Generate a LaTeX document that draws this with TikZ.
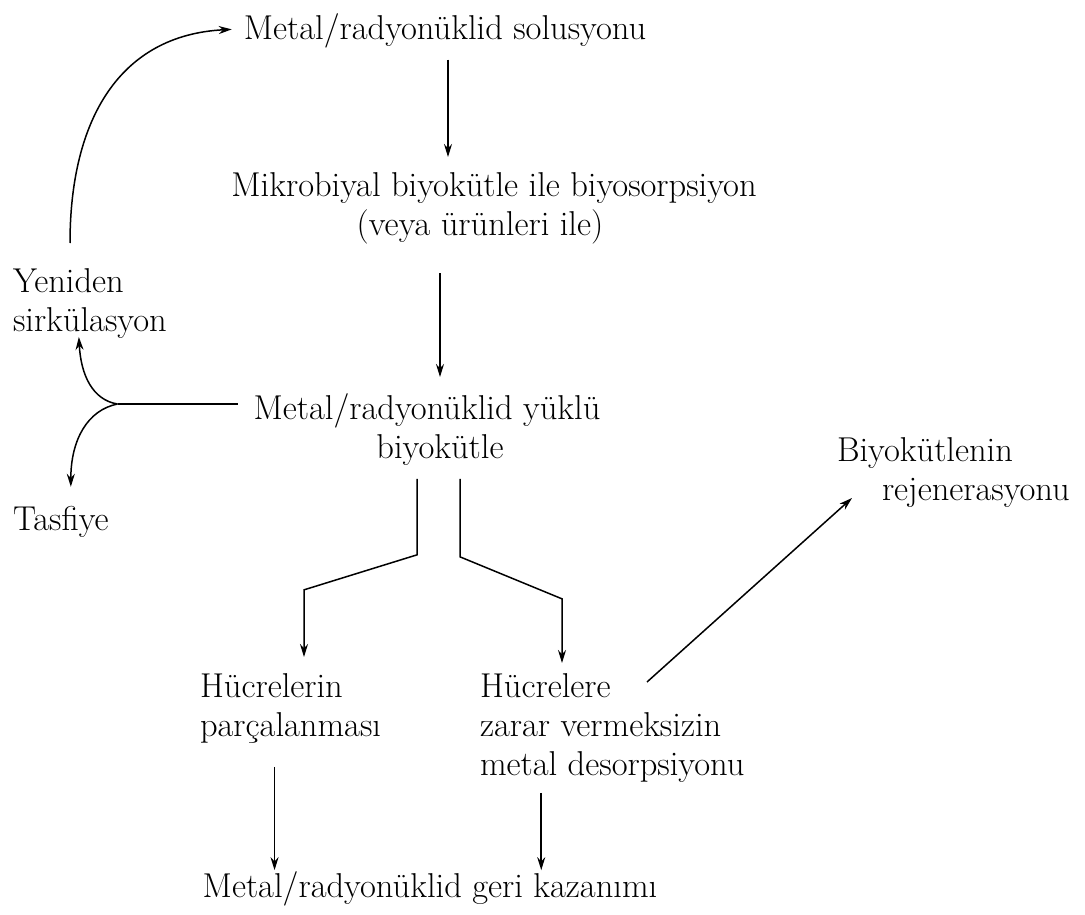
\documentclass[tikz,border=0pt]{standalone}
\usepackage{fontspec}
\usetikzlibrary{arrows.meta,calc}
\begin{document}
\begin{tikzpicture}[x=1pt,y=-1pt,
  lbl/.style={inner sep=0pt, outer sep=0pt, font=\fontsize{34.5}{39}\selectfont},
  arr/.style={line width=1.5pt, -{Stealth[length=13pt,width=8pt]}},
  ln/.style={line width=1.5pt}]
\useasboundingbox (0,0) rectangle (1085,915);
\fill[white] (0,0) rectangle (1085,915);

% nodes
\node[lbl, anchor=base] (sol) at (445,40) {Metal/radyonüklid solusyonu};
\node[lbl, anchor=north, align=center] (mik) at (494,173) {Mikrobiyal biyokütle ile biyosorpsiyon\\(veya ürünleri ile)\hspace*{28pt}};
\node[lbl, anchor=north, align=center] (load) at (427,394) {Metal/radyonüklid yüklü\\\hspace*{26pt}biyokütle};
\node[lbl, anchor=north west, align=left] (yen) at (13,269) {Yeniden\\sirkülasyon};
\node[lbl, anchor=base west] (tas) at (13,530) {Tasfiye};
\node[lbl, anchor=north west, align=left] (lys) at (200,674) {Hücrelerin\\parçalanması};
\node[lbl, anchor=north west, align=left] (des) at (480,674) {Hücrelere\\zarar vermeksizin\\metal desorpsiyonu};
\node[lbl, anchor=north west, align=left] (reg) at (837,438) {Biyokütlenin\\\hspace*{45pt}rejenerasyonu};
\node[lbl, anchor=base] (rec) at (430,897) {Metal/radyonüklid geri kazanımı};

% helper coordinates
\coordinate (a1) at ($(sol.south)+(3,11)$);
\coordinate (a1e) at ($(mik.north)+(0,-16)$);
\coordinate (a2) at ($(mik.south)+(-54,28.5)$);
\coordinate (a2e) at ($(load.north)+(0,-17)$);
\coordinate (j) at ($(load.north west)+(-136,10)$);
\coordinate (hs) at ($(load.north west)+(-16,10)$);
\coordinate (sL) at ($(load.south)+(-10,13)$);
\coordinate (sL2) at ($(sL)+(0,76)$);
\coordinate (dL) at ($(sL2)+(-113,35)$);
\coordinate (lysTop) at ($(lys.north)+(0,-17)$);
\coordinate (sR) at ($(load.south)+(33,13)$);
\coordinate (sR2) at ($(sR)+(0,78)$);
\coordinate (dR) at ($(sR2)+(102,42)$);
\coordinate (desTop) at ($(des.north)+(0,-11)$);
\coordinate (b1) at ($(lys.south)+(-16,23)$);
\coordinate (b2) at ($(des.south)+(-71,10)$);
\coordinate (recTop) at ($(rec.north)+(0,-1)$);

% main flow
\draw[arr] (a1) -- (a1 |- a1e);
\draw[arr] (a2) -- (a2 |- a2e);

% recirculation loop
\draw[arr] ($(yen.north west)+(57,-26)$) .. controls ($(yen.north west)+(57,-150)$) and (120,35) .. ($(sol.west)+(-12,-2)$);
\draw[ln] (hs) -- (j);
\draw[arr] (j) .. controls +(-25,-4) and +(2,38) .. ($(yen.south)+(-11,-2)$);
\draw[arr] (j) .. controls +(-30,6) and +(0,-47) .. ($(tas.north)+(10,-19)$);

% split
\draw[arr] (sL) -- (sL2) -- (dL) -- (dL |- lysTop);
\draw[arr] (sR) -- (sR2) -- (dR) -- (dR |- desTop);

% regeneration
\draw[arr] ($(des.north west)+(167,8)$) -- ($(reg.north west)+(15,60)$);

% recovery
\draw[arr] (b1) -- (b1 |- recTop);
\draw[arr] (b2) -- (b2 |- recTop);
\end{tikzpicture}
\end{document}
